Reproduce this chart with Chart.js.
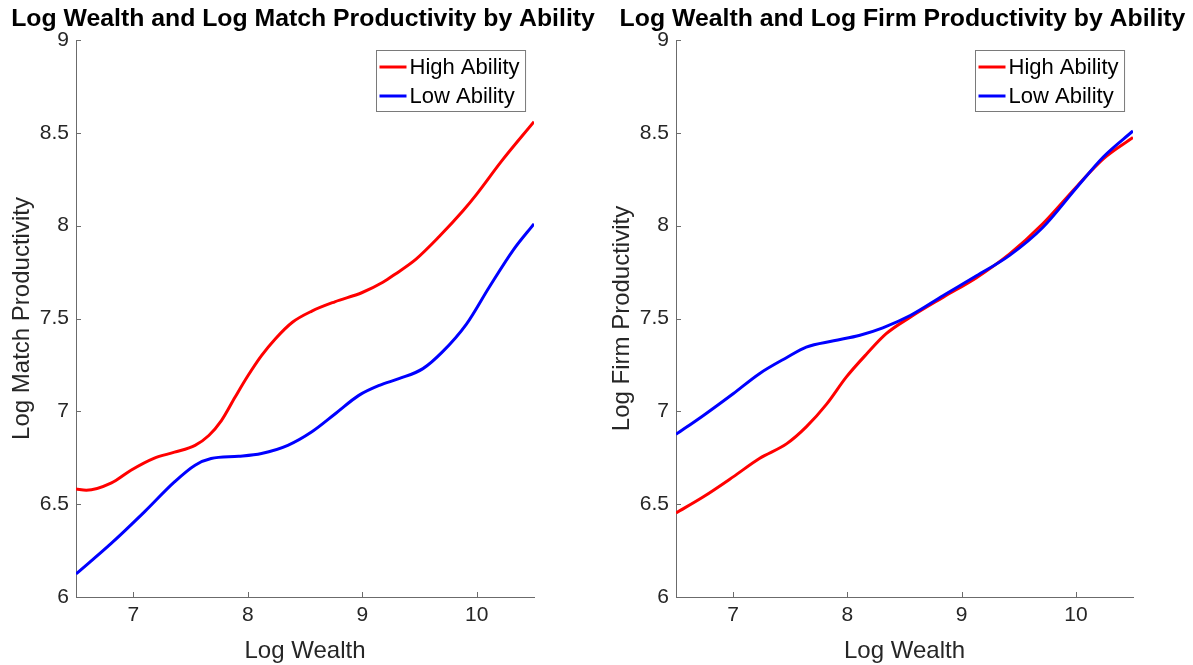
<!DOCTYPE html>
<html><head><meta charset="utf-8">
<script src="https://cdn.jsdelivr.net/npm/chart.js@4/dist/chart.umd.min.js"></script>
<style>
html,body{margin:0;padding:0;background:#fff;}
#wrap{position:relative;width:1193px;height:665px;overflow:hidden;}
.box{position:absolute;top:0;height:665px;}
</style></head><body>
<div id="wrap">
<div class="box" style="left:0;width:600px"><canvas id="c1" width="600" height="665"></canvas></div>
<div class="box" style="left:600px;width:593px"><canvas id="c2" width="593" height="665"></canvas></div>
</div>
<script>
// ---- data ----
const seriesLabels = ['High Ability', 'Low Ability'];
const seriesColors = ['#ff0000', '#0000ff'];
const xAxisLabel = 'Log Wealth';
const leftTitle = 'Log Wealth and Log Match Productivity by Ability';
const rightTitle = 'Log Wealth and Log Firm Productivity by Ability';
const leftYLabel = 'Log Match Productivity';
const rightYLabel = 'Log Firm Productivity';
const xTicks = [7, 8, 9, 10];
const yTicks = [6, 6.5, 7, 7.5, 8, 8.5, 9];

const matchHighX = [6.5, 6.59, 6.81, 6.98, 7.18, 7.36, 7.54, 7.66, 7.77, 7.89, 8.0, 8.12, 8.24, 8.39, 8.56, 8.76, 9.0, 9.18, 9.29, 9.47, 9.67, 9.88, 10.0, 10.22, 10.5];
const matchHighY = [6.582, 6.575, 6.615, 6.683, 6.747, 6.78, 6.817, 6.87, 6.95, 7.077, 7.19, 7.30, 7.39, 7.48, 7.54, 7.59, 7.64, 7.695, 7.74, 7.82, 7.94, 8.08, 8.17, 8.35, 8.56];
const matchLowX = [6.5, 6.81, 7.10, 7.36, 7.54, 7.68, 7.92, 8.12, 8.35, 8.56, 8.77, 8.97, 9.15, 9.32, 9.53, 9.70, 9.91, 10.11, 10.32, 10.5];
const matchLowY = [6.124, 6.29, 6.46, 6.62, 6.71, 6.746, 6.758, 6.773, 6.817, 6.89, 6.99, 7.086, 7.14, 7.176, 7.23, 7.32, 7.47, 7.67, 7.87, 8.01];

const firmHighX = [6.5, 6.74, 7.0, 7.23, 7.47, 7.64, 7.82, 7.99, 8.17, 8.34, 8.55, 8.84, 9.13, 9.42, 9.71, 10.0, 10.24, 10.5];
const firmHighY = [6.453, 6.54, 6.647, 6.746, 6.826, 6.916, 7.04, 7.184, 7.31, 7.418, 7.507, 7.615, 7.72, 7.848, 8.01, 8.206, 8.36, 8.475];
const firmLowX = [6.5, 6.74, 7.0, 7.23, 7.47, 7.64, 7.88, 8.11, 8.31, 8.55, 8.84, 9.13, 9.42, 9.71, 10.0, 10.24, 10.5];
const firmLowY = [6.876, 6.978, 7.095, 7.203, 7.29, 7.346, 7.38, 7.41, 7.45, 7.516, 7.624, 7.73, 7.84, 7.99, 8.20, 8.37, 8.51];

// ---- rendering ----
const FONT = '"Liberation Sans", Arial, Helvetica, sans-serif';
const TXT = '#262626';
const AXIS = '#6b6b6b';

function pts(xs, ys) { return xs.map((v, i) => ({x: v, y: ys[i]})); }

const decorPlugin = {
  id: 'decor',
  afterDraw(chart, args, opts) {
    const ctx = chart.ctx;
    const a = chart.chartArea;
    const xs = chart.scales.x, ys = chart.scales.y;
    ctx.save();
    // inward ticks
    ctx.strokeStyle = AXIS; ctx.lineWidth = 1;
    ctx.beginPath();
    xTicks.forEach(v => { const p = Math.round(xs.getPixelForValue(v)) + 0.5; ctx.moveTo(p, a.bottom); ctx.lineTo(p, a.bottom - 5); });
    yTicks.forEach(v => { const p = Math.round(ys.getPixelForValue(v)) + 0.5; ctx.moveTo(a.left, p); ctx.lineTo(a.left + 5, p); });
    ctx.stroke();
    // title
    ctx.fillStyle = '#000';
    ctx.font = 'bold 24.8px ' + FONT;
    ctx.textAlign = 'center'; ctx.textBaseline = 'alphabetic';
    ctx.fillText(opts.title, (a.left + a.right) / 2 - 2, 26);
    // legend
    ctx.font = '22px ' + FONT;
    const tw = Math.max(...seriesLabels.map(s => ctx.measureText(s).width));
    const bw = 3 + 28 + 3 + tw + 5, bh = 61;
    const bx = Math.round(a.right - 9 - bw) + 0.5, by = Math.round(a.top + 10) + 0.5;
    ctx.fillStyle = '#fff';
    ctx.fillRect(bx, by, bw, bh);
    ctx.strokeStyle = '#7a7a7a'; ctx.lineWidth = 1;
    ctx.strokeRect(bx, by, bw, bh);
    ctx.textAlign = 'left'; ctx.textBaseline = 'middle';
    seriesLabels.forEach((s, i) => {
      const yy = by + 16.5 + i * 29;
      ctx.strokeStyle = seriesColors[i]; ctx.lineWidth = 3;
      ctx.beginPath(); ctx.moveTo(bx + 3, yy); ctx.lineTo(bx + 30, yy); ctx.stroke();
      ctx.fillStyle = '#000';
      ctx.fillText(s, bx + 33, yy + 1);
    });
    ctx.restore();
  }
};

function makeChart(id, title, yLabel, hx, hy, lx, ly, padRight) {
  return new Chart(document.getElementById(id), {
    type: 'line',
    data: {
      datasets: [
        {label: seriesLabels[0], data: pts(hx, hy), borderColor: seriesColors[0], borderWidth: 3, pointRadius: 0, cubicInterpolationMode: 'monotone', fill: false, order: 1},
        {label: seriesLabels[1], data: pts(lx, ly), borderColor: seriesColors[1], borderWidth: 3, pointRadius: 0, cubicInterpolationMode: 'monotone', fill: false, order: 0}
      ]
    },
    options: {
      responsive: false,
      animation: false,
      layout: {padding: {top: 40, right: padRight, bottom: 0, left: 0}},
      plugins: {legend: {display: false}, tooltip: {enabled: false}, title: {display: false}, decor: {title: title}},
      scales: {
        x: {
          type: 'linear', min: 6.5, max: 10.5,
          afterBuildTicks: s => { s.ticks = xTicks.map(v => ({value: v})); },
          afterFit: s => { s.height = 68; },
          grid: {display: false, drawTicks: false},
          border: {display: true, color: AXIS, width: 1},
          ticks: {color: TXT, font: {family: FONT, size: 21}, padding: 6, maxRotation: 0, callback: v => String(v)},
          title: {display: true, text: xAxisLabel, color: TXT, font: {family: FONT, size: 24, lineHeight: 1.1}, padding: {top: 0, bottom: 0}}
        },
        y: {
          type: 'linear', min: 6, max: 9,
          afterBuildTicks: s => { s.ticks = yTicks.map(v => ({value: v})); },
          afterFit: s => { s.width = 76; },
          grid: {display: false, drawTicks: false},
          border: {display: true, color: AXIS, width: 1},
          ticks: {color: TXT, font: {family: FONT, size: 21}, padding: 7, callback: v => String(v)},
          title: {display: true, text: yLabel, color: TXT, font: {family: FONT, size: 24, lineHeight: 1.2}, padding: {top: 8, bottom: 0}}
        }
      }
    },
    plugins: [decorPlugin]
  });
}

makeChart('c1', leftTitle, leftYLabel, matchHighX, matchHighY, matchLowX, matchLowY, 66);
makeChart('c2', rightTitle, rightYLabel, firmHighX, firmHighY, firmLowX, firmLowY, 60);
</script>
</body></html>
